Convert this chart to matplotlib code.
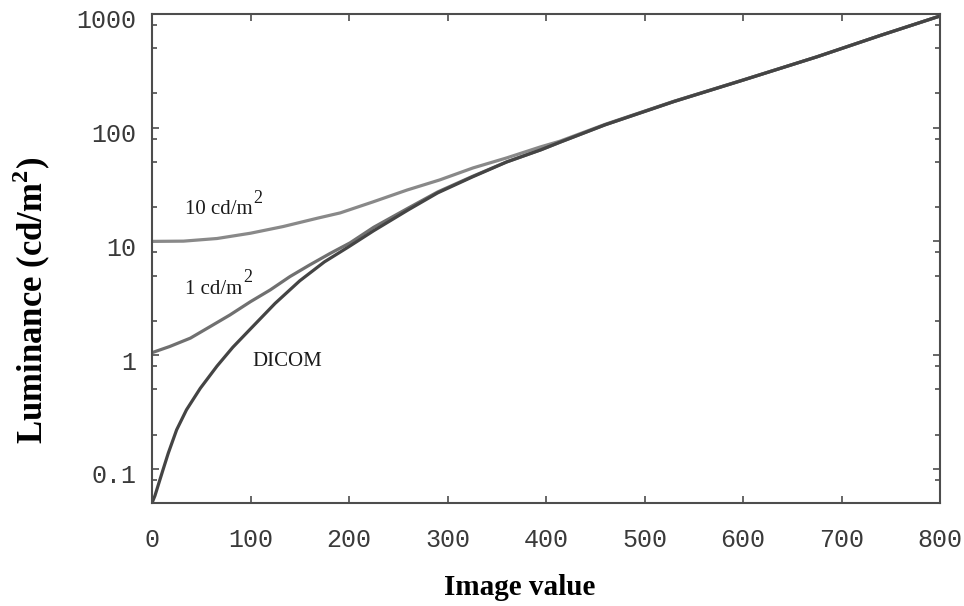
import numpy as np
import matplotlib
matplotlib.use('Agg')
import matplotlib.pyplot as plt
import matplotlib.ticker as ticker
import matplotlib.transforms as mtransforms

# valores (valor de imagem -> luminancia em cd/m2)
x_dicom = [0, 3, 7, 11.5, 16.5, 25, 35, 49, 66, 82, 100, 125, 150, 175, 200,
           225, 260, 290, 325, 360, 395, 415, 460, 530, 600, 675, 740, 800]
lum_dicom = [0.05, 0.058, 0.075, 0.1, 0.137, 0.22, 0.33, 0.51, 0.8, 1.17, 1.7,
             2.85, 4.5, 6.6, 9.0, 12.4, 18.9, 26.7, 36.8, 49.9, 64, 75, 106,
             170, 262, 420, 650, 960]

x_1cd = [0, 18, 39, 59, 79, 100, 120, 140, 160, 181, 201, 225, 260, 290, 325,
         360, 395, 415, 460, 530, 600, 675, 740, 800]
lum_1cd = [1.05, 1.19, 1.41, 1.78, 2.25, 2.95, 3.74, 4.9, 6.2, 7.85, 9.7, 13.3,
           19.6, 27.2, 37.2, 50, 64, 75, 106, 170, 262, 420, 650, 960]

x_10cd = [0, 32, 66, 100, 133, 168, 191, 224, 259, 292, 326, 360, 394, 414,
          460, 530, 600, 675, 740, 800]
lum_10cd = [10, 10.05, 10.6, 11.8, 13.5, 16.0, 17.8, 22.2, 28.3, 34.7, 44.3,
            54.2, 67.6, 76, 107, 171, 263, 420, 650, 960]

x_ticks = [0, 100, 200, 300, 400, 500, 600, 700, 800]
y_ticks = [0.1, 1, 10, 100, 1000]
y_tick_labels = ['0.1', '1', '10', '100', '1000']

plt.rcParams['mathtext.fontset'] = 'custom'
plt.rcParams['mathtext.rm'] = 'Liberation Serif'
plt.rcParams['mathtext.bf'] = 'Liberation Serif:bold'

fig = plt.figure(figsize=(9.64, 6.06), dpi=100)
ax = fig.add_axes([152 / 964, 103 / 606, 788 / 964, 489 / 606])

ax.plot(x_10cd, lum_10cd, color='#898989', lw=2.3, solid_capstyle='round')
ax.plot(x_1cd, lum_1cd, color='#707070', lw=2.3, solid_capstyle='round')
ax.plot(x_dicom, lum_dicom, color='#444444', lw=2.3, solid_capstyle='round')

ax.set_yscale('log')
ax.set_xlim(0, 800)
ax.set_ylim(0.05, 1000)

ax.xaxis.set_major_locator(ticker.FixedLocator(x_ticks))
ax.yaxis.set_major_locator(ticker.FixedLocator(y_ticks))
ax.yaxis.set_major_formatter(ticker.FixedFormatter(y_tick_labels))
ax.yaxis.set_minor_locator(ticker.LogLocator(base=10, subs=(2, 5, 8)))
ax.yaxis.set_minor_formatter(ticker.NullFormatter())

for s in ax.spines.values():
    s.set_linewidth(1.5)
    s.set_color('#4d4d4d')

ax.tick_params(which='both', direction='in', top=True, right=True,
               color='#4d4d4d', width=1.2)
ax.tick_params(which='major', length=5)
ax.tick_params(which='minor', length=3.5)
ax.tick_params(axis='x', pad=18)
ax.tick_params(axis='y', pad=11)
for lab in ax.get_xticklabels() + ax.get_yticklabels():
    lab.set_fontfamily('Liberation Mono')
    lab.set_fontsize(18)
    lab.set_color('#3a3a3a')

# rotulos do eixo y um pouco abaixo dos ticks, como no original
desloc = mtransforms.ScaledTranslation(0, -5 / 100, fig.dpi_scale_trans)
for lab in ax.get_yticklabels():
    lab.set_transform(lab.get_transform() + desloc)

ax.set_xlabel('Image value', fontfamily='Liberation Serif', fontweight='bold',
              fontsize=21, va='top')
ax.xaxis.set_label_coords(0.467, -0.145)
ax.set_ylabel(r'Luminance (cd/m$^{\mathbf{2}}$)', fontfamily='Liberation Serif',
              fontweight='bold', fontsize=25)
ax.yaxis.set_label_coords(-0.126, 0.415)

# anotacoes das curvas, com o "2" elevado como no original
fonte_txt = dict(fontfamily='Liberation Serif', fontsize=15, color='#1a1a1a')
t10 = ax.text(34, 17.4, '10 cd/m', **fonte_txt)
ax.annotate('2', xy=(1, 0), xycoords=t10, xytext=(0.3, 9),
            textcoords='offset points', va='bottom', ha='left',
            fontfamily='Liberation Serif', fontsize=13, color='#1a1a1a')
t1 = ax.text(34, 3.45, '1 cd/m', **fonte_txt)
ax.annotate('2', xy=(1, 0), xycoords=t1, xytext=(0.3, 9),
            textcoords='offset points', va='bottom', ha='left',
            fontfamily='Liberation Serif', fontsize=13, color='#1a1a1a')
ax.text(102, 0.8, 'DICOM', **fonte_txt)

fig.savefig('out.png', dpi=100, facecolor='white')
